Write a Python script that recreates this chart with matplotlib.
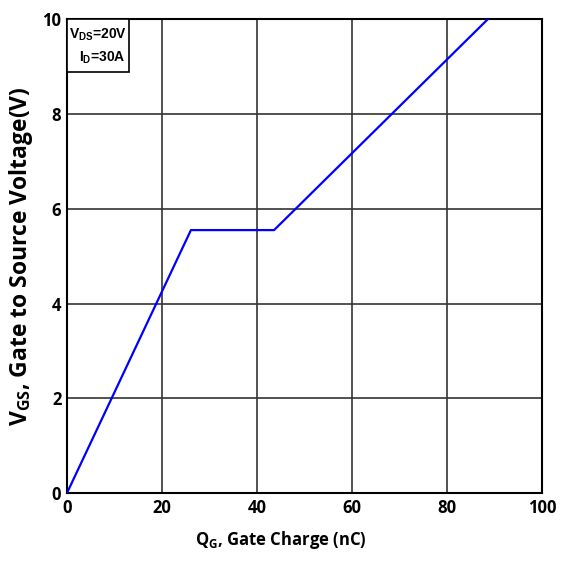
import matplotlib.pyplot as plt
from matplotlib.patches import Rectangle

# gate charge curve
qg = [0, 26.1, 43.6, 88.6]
vgs = [0, 5.55, 5.55, 10.0]

xticks = [0, 20, 40, 60, 80, 100]
yticks = [0, 2, 4, 6, 8, 10]

fig = plt.figure(figsize=(5.67, 5.63), dpi=100)
ax = fig.add_axes([0.118, 0.124, 0.838, 0.842])

ax.plot(qg, vgs, color='#0000ff', lw=1.6, zorder=3)

ax.set_xlim(0, 100)
ax.set_ylim(0, 10)
ax.set_xticks(xticks)
ax.set_yticks(yticks)
ax.grid(True, color='#333333', lw=1.2)
ax.tick_params(length=0, pad=4)
for lab in ax.get_xticklabels() + ax.get_yticklabels():
    lab.set_family('Open Sans')
    lab.set_fontweight('bold')
    lab.set_fontsize(12)
for s in ax.spines.values():
    s.set_linewidth(1.5)

ax.set_xlabel(r'Q$_\mathregular{G}$, Gate Charge (nC)', family='Open Sans',
              fontweight='bold', fontsize=12, labelpad=10)
ax.xaxis.set_label_coords(0.45, -0.075)
ax.set_ylabel(r'V$_\mathregular{GS}$, Gate to Source Voltage(V)', family='Open Sans',
              fontweight='bold', fontsize=16.5, labelpad=5)

# conditions box
ax.add_patch(Rectangle((0, 0.888), 0.13, 0.112, transform=ax.transAxes,
                       facecolor='white', edgecolor='black', lw=1.2, zorder=4))
ax.text(0.005, 0.968, r'V$_\mathregular{DS}$=20V', transform=ax.transAxes,
        family='Liberation Sans', fontweight='bold', fontsize=10,
        va='center', ha='left', zorder=5)
ax.text(0.124, 0.918, r'I$_\mathregular{D}$=30A', transform=ax.transAxes,
        family='Liberation Sans', fontweight='bold', fontsize=10,
        va='center', ha='right', zorder=5)

fig.savefig('out.png', dpi=100)
